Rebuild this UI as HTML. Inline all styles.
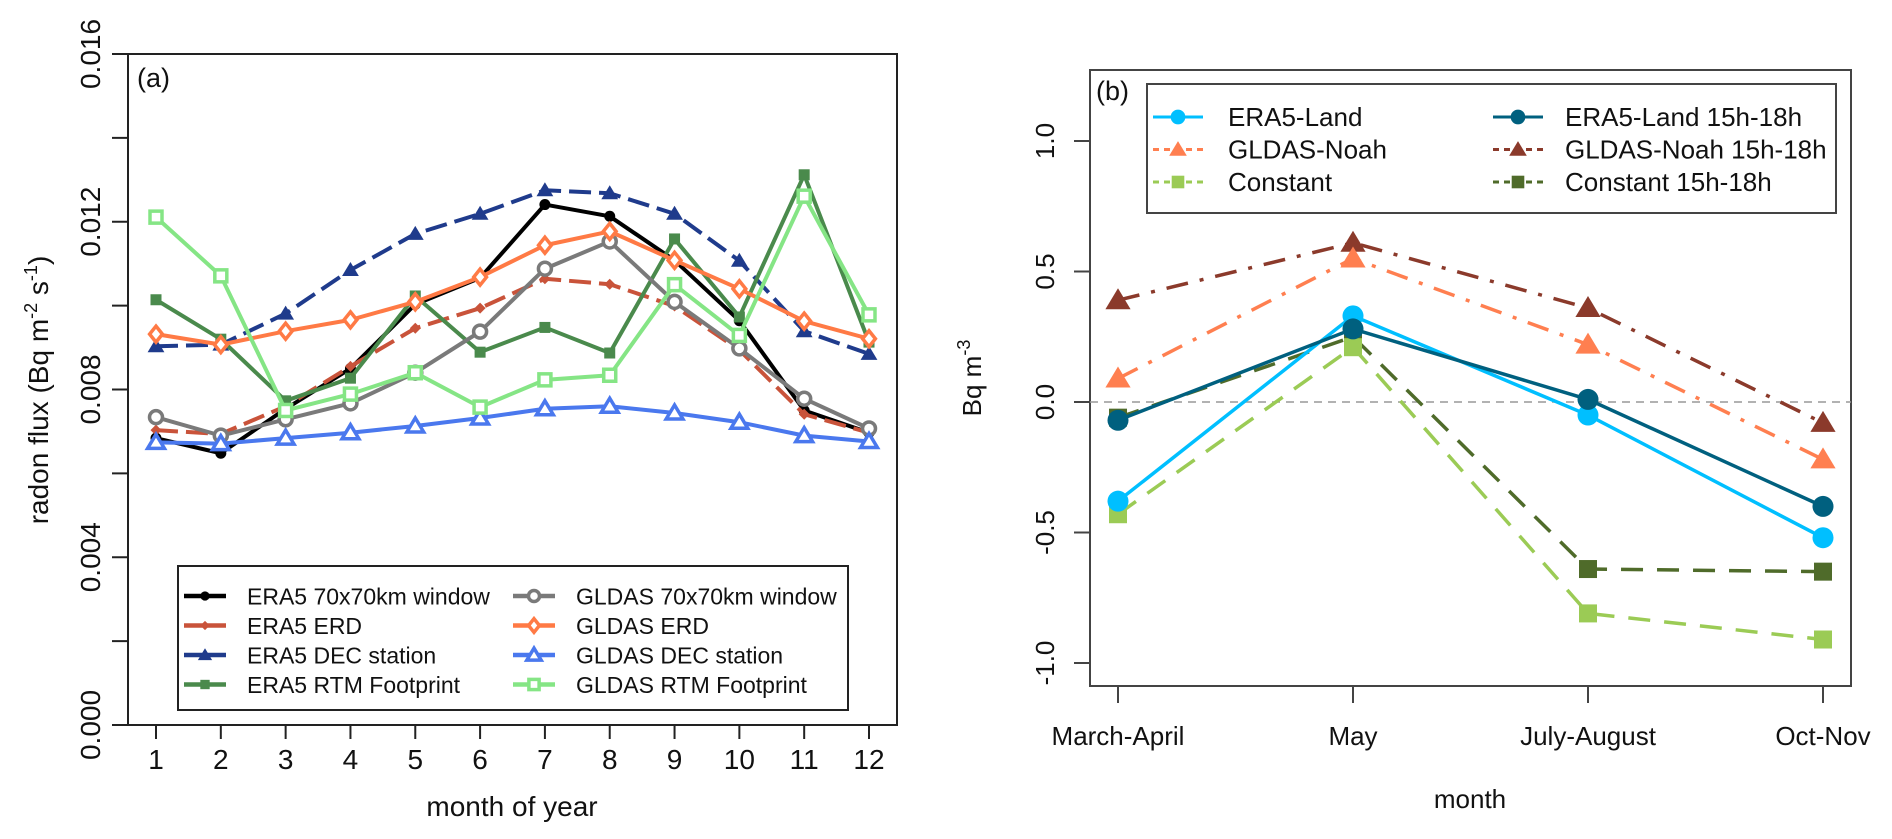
<!DOCTYPE html>
<html><head><meta charset="utf-8"><style>
html,body{margin:0;padding:0;background:#fff;}
svg{display:block;font-family:"Liberation Sans",Arial,sans-serif;}
</style></head><body>
<svg id="chart" width="1892" height="839" viewBox="0 0 1892 839" xmlns="http://www.w3.org/2000/svg"></svg>
<script>
// ---------- Panel (a) data ----------
const monthsA = [1,2,3,4,5,6,7,8,9,10,11,12];
const yTicksA = [0, 0.004, 0.008, 0.012, 0.016];
const yMinorA = [0.002, 0.006, 0.010, 0.014];
const yTickLabelsA = ["0.000","0.004","0.008","0.012","0.016"];
const era5Window = [0.00684,0.00648,0.00754,0.0085,0.01003,0.01066,0.01241,0.01213,0.01108,0.00964,0.0075,0.00697];
const era5Erd = [0.00703,0.00694,0.0076,0.00855,0.00946,0.00994,0.01064,0.01051,0.00999,0.00894,0.00741,0.00697];
const era5Dec = [0.00903,0.00907,0.00981,0.01085,0.01171,0.01219,0.01275,0.01268,0.01219,0.01107,0.00939,0.00885];
const era5Rtm = [0.01014,0.0092,0.00773,0.00827,0.01023,0.00889,0.00948,0.00887,0.01159,0.00973,0.01312,0.00913];
const gldasWindow = [0.00734,0.0069,0.00729,0.00767,0.0084,0.00938,0.01088,0.01153,0.01009,0.00898,0.00778,0.00707];
const gldasErd = [0.00932,0.00907,0.00939,0.00966,0.01009,0.01068,0.01144,0.01177,0.01108,0.0104,0.00963,0.00921];
const gldasDec = [0.00674,0.00671,0.00684,0.00697,0.00713,0.00732,0.00754,0.0076,0.00744,0.00722,0.0069,0.00676];
const gldasRtm = [0.01211,0.01071,0.0075,0.00789,0.0084,0.00758,0.00823,0.00834,0.0105,0.00929,0.01261,0.00978];
// ---------- Panel (b) data ----------
const periodsB = ["March-April","May","July-August","Oct-Nov"];
const yTicksB = [-1.0,-0.5,0.0,0.5,1.0];
const yTickLabelsB = ["-1.0","-0.5","0.0","0.5","1.0"];
const era5Land = [-0.38,0.33,-0.05,-0.52];
const era5Land15 = [-0.07,0.28,0.01,-0.40];
const gldasNoah = [0.09,0.55,0.22,-0.22];
const gldasNoah15 = [0.39,0.61,0.36,-0.08];
const constant = [-0.43,0.21,-0.81,-0.91];
const constant15 = [-0.06,0.25,-0.64,-0.65];

const NS="http://www.w3.org/2000/svg";
const svg=document.getElementById('chart');
function mk(tag,attrs,parent){const e=document.createElementNS(NS,tag);for(const k in attrs)e.setAttribute(k,attrs[k]);(parent||svg).appendChild(e);return e;}

// ---------- Panel A axes ----------
const A={l:128,r:897,t:54,b:725};
const xA=m=>156+(m-1)*(869-156)/11;
const yA=v=>A.b-(v/0.016)*(A.b-A.t);
const gA=mk('g',{});


const frameA=mk('rect',{x:A.l,y:A.t,width:A.r-A.l,height:A.b-A.t,fill:'none',stroke:'#222','stroke-width':2},gA);


yTicksA.forEach((v,i)=>{
  const t=mk('line',{x1:A.l-16,x2:A.l,y1:yA(v),y2:yA(v),stroke:'#222','stroke-width':2},gA);
  
  
  const tx=mk('text',{x:0,y:0,transform:`translate(100,${yA(v)}) rotate(-90)`,'text-anchor':'middle','font-size':28,fill:'#111'},gA);
  tx.textContent=yTickLabelsA[i];
  
  
});
yMinorA.forEach(v=>{
  const t=mk('line',{x1:A.l-16,x2:A.l,y1:yA(v),y2:yA(v),stroke:'#222','stroke-width':2},gA);
  
  
});
monthsA.forEach(m=>{
  const t=mk('line',{x1:xA(m),x2:xA(m),y1:A.b,y2:A.b+14,stroke:'#222','stroke-width':2},gA);
  
  
  const tx=mk('text',{x:xA(m),y:769,'text-anchor':'middle','font-size':28,fill:'#111'},gA);
  tx.textContent=String(m);
  
  
});
let t1=mk('text',{x:512,y:816,'text-anchor':'middle','font-size':28,fill:'#111'},gA);
t1.textContent='month of year';


let t2=mk('text',{x:0,y:0,transform:'translate(48,390) rotate(-90)','text-anchor':'middle','font-size':28,fill:'#111'},gA);
t2.innerHTML='radon flux (Bq m<tspan dy="-11" font-size="18">-2</tspan><tspan dy="11"> s</tspan><tspan dy="-11" font-size="18">-1</tspan><tspan dy="11">)</tspan>';


let t3=mk('text',{x:137,y:87,'font-size':27,fill:'#111'},gA);
t3.textContent='(a)';



function marker(g,type,x,y,col,s){
  let e;
  if(type==='dot'){e=mk('circle',{cx:x,cy:y,r:s,fill:col},g);}
  else if(type==='ocircle'){e=mk('circle',{cx:x,cy:y,r:s,fill:'#fff',stroke:col,'stroke-width':3.5},g);}
  else if(type==='diam'){e=mk('polygon',{points:`${x},${y-s} ${x+s},${y} ${x},${y+s} ${x-s},${y}`,fill:col},g);}
  else if(type==='odiam'){e=mk('polygon',{points:`${x},${y-s} ${x+s*0.8},${y} ${x},${y+s} ${x-s*0.8},${y}`,fill:'#fff',stroke:col,'stroke-width':3.5},g);}
  else if(type==='tri'){e=mk('polygon',{points:`${x},${y-s} ${x+s*1.05},${y+s*0.75} ${x-s*1.05},${y+s*0.75}`,fill:col},g);}
  else if(type==='otri'){e=mk('polygon',{points:`${x},${y-s} ${x+s*1.05},${y+s*0.75} ${x-s*1.05},${y+s*0.75}`,fill:'#fff',stroke:col,'stroke-width':3.5},g);}
  else if(type==='sq'){e=mk('rect',{x:x-s,y:y-s,width:2*s,height:2*s,fill:col},g);}
  else if(type==='osq'){e=mk('rect',{x:x-s,y:y-s,width:2*s,height:2*s,fill:'#fff',stroke:col,'stroke-width':3.5},g);}
  return e;
}

const seriesA=[
 {name:'ERA5 70x70km window',vals:era5Window,col:'#000000',dash:'',m:'dot',s:5.5,id:'era5-window'},
 {name:'ERA5 ERD',vals:era5Erd,col:'#c9533a',dash:'22 8',m:'diam',s:5.5,id:'era5-erd'},
 {name:'ERA5 DEC station',vals:era5Dec,col:'#1f3b8c',dash:'22 8',m:'tri',s:8,id:'era5-dec'},
 {name:'ERA5 RTM Footprint',vals:era5Rtm,col:'#4a8a4c',dash:'',m:'sq',s:5.5,id:'era5-rtm'},
 {name:'GLDAS 70x70km window',vals:gldasWindow,col:'#7a7a7a',dash:'',m:'ocircle',s:6.5,id:'gldas-window'},
 {name:'GLDAS ERD',vals:gldasErd,col:'#ff7a45',dash:'',m:'odiam',s:8,id:'gldas-erd'},
 {name:'GLDAS DEC station',vals:gldasDec,col:'#4a78ee',dash:'',m:'otri',s:8,id:'gldas-dec'},
 {name:'GLDAS RTM Footprint',vals:gldasRtm,col:'#85e585',dash:'',m:'osq',s:6,id:'gldas-rtm'}
];
seriesA.forEach(sr=>{
  const g=mk('g',{},gA);
  
  
  const pts=sr.vals.map((v,i)=>`${xA(monthsA[i])},${yA(v)}`).join(' ');
  const pl=mk('polyline',{points:pts,fill:'none',stroke:sr.col,'stroke-width':4,'stroke-dasharray':sr.dash,'stroke-linejoin':'round'},g);
  
  
  sr.vals.forEach((v,i)=>{
    const e=marker(g,sr.m,xA(monthsA[i]),yA(v),sr.col,sr.s);
    
    
  });
});
// legend A
const lgA=mk('g',{},gA);


const lbA=mk('rect',{x:178,y:566,width:670,height:144,fill:'#fff',stroke:'#222','stroke-width':2},lgA);


seriesA.forEach((sr,i)=>{
  const col=i<4?0:1,row=i%4;
  const lx=col?513:184, tx=col?576:247, y=596+row*29.5;
  const g=mk('g',{},lgA);
  
  
  mk('line',{x1:lx,x2:lx+42,y1:y,y2:y,stroke:sr.col,'stroke-width':4.5},g);
  marker(g,sr.m,lx+21,y,sr.col,sr.s*0.85);
  const t=mk('text',{x:tx,y:y+8.5,'font-size':23,fill:'#111'},g);
  t.textContent=sr.name;
});

// ---------- Panel B ----------
const B={l:1090,r:1851,t:70,b:686};
const xB=i=>1118+i*235;
const yB=v=>402-v*261;
const gB=mk('g',{});


const frameB=mk('rect',{x:B.l,y:B.t,width:B.r-B.l,height:B.b-B.t,fill:'none',stroke:'#444','stroke-width':2},gB);


yTicksB.forEach((v,i)=>{
  const t=mk('line',{x1:B.l-16,x2:B.l,y1:yB(v),y2:yB(v),stroke:'#444','stroke-width':2},gB);
  
  
  const tx=mk('text',{x:0,y:0,transform:`translate(1054,${yB(v)}) rotate(-90)`,'text-anchor':'middle','font-size':26,fill:'#111'},gB);
  tx.textContent=yTickLabelsB[i];
  
  
});
periodsB.forEach((p,i)=>{
  const t=mk('line',{x1:xB(i),x2:xB(i),y1:B.b,y2:B.b+17,stroke:'#444','stroke-width':2},gB);
  
  
  const tx=mk('text',{x:xB(i),y:745,'text-anchor':'middle','font-size':26,fill:'#111'},gB);
  tx.textContent=p;
  
  
});
let b1=mk('text',{x:1470,y:808,'text-anchor':'middle','font-size':26,fill:'#111'},gB);
b1.textContent='month';


let b2=mk('text',{x:0,y:0,transform:'translate(981,378) rotate(-90)','text-anchor':'middle','font-size':26,fill:'#111'},gB);
b2.innerHTML='Bq m<tspan dy="-11" font-size="18">-3</tspan>';


let b3=mk('text',{x:1096,y:100,'font-size':27,fill:'#111'},gB);
b3.textContent='(b)';


const zl=mk('line',{x1:B.l,x2:B.r,y1:yB(0),y2:yB(0),stroke:'#999','stroke-width':1.5,'stroke-dasharray':'8 6'},gB);



const seriesB=[
 {name:'Constant 15h-18h',vals:constant15,col:'#4f6b2a',dash:'22 14',m:'sq',s:9,id:'constant-15h'},
 {name:'Constant',vals:constant,col:'#9bcb55',dash:'22 14',m:'sq',s:9,id:'constant'},
 {name:'GLDAS-Noah 15h-18h',vals:gldasNoah15,col:'#8b3a2b',dash:'22 12 4 12',m:'tri',s:12,id:'gldas-noah-15h'},
 {name:'GLDAS-Noah',vals:gldasNoah,col:'#ff7f50',dash:'22 12 4 12',m:'tri',s:12,id:'gldas-noah'},
 {name:'ERA5-Land',vals:era5Land,col:'#00bfff',dash:'',m:'dot',s:10.5,id:'era5-land'},
 {name:'ERA5-Land 15h-18h',vals:era5Land15,col:'#00607f',dash:'',m:'dot',s:10.5,id:'era5-land-15h'}
];
seriesB.forEach(sr=>{
  const g=mk('g',{},gB);
  
  
  const pts=sr.vals.map((v,i)=>`${xB(i)},${yB(v)}`).join(' ');
  const pl=mk('polyline',{points:pts,fill:'none',stroke:sr.col,'stroke-width':3.5,'stroke-dasharray':sr.dash},g);
  
  
  sr.vals.forEach((v,i)=>{
    const e=marker(g,sr.m,xB(i),yB(v),sr.col,sr.s);
    
    
  });
});
// legend B
const lgB=mk('g',{},gB);


const lbB=mk('rect',{x:1147,y:84,width:689,height:129,fill:'#fff',stroke:'#444','stroke-width':2},lgB);


const legOrder=['era5-land','gldas-noah','constant','era5-land-15h','gldas-noah-15h','constant-15h'];
legOrder.forEach((id,i)=>{
  const sr=seriesB.find(s=>s.id===id);
  const col=i<3?0:1,row=i%3;
  const lx=col?1493:1153, tx=col?1565:1228, y=117+row*32.5;
  const g=mk('g',{},lgB);
  
  
  mk('line',{x1:lx,x2:lx+50,y1:y,y2:y,stroke:sr.col,'stroke-width':3,'stroke-dasharray':sr.dash?'6 5':''},g);
  marker(g,sr.m,lx+25,y,sr.col,sr.s*0.7);
  const t=mk('text',{x:tx,y:y+9,'font-size':26,fill:'#111'},g);
  t.textContent=sr.name;
});
</script>
</body></html>
